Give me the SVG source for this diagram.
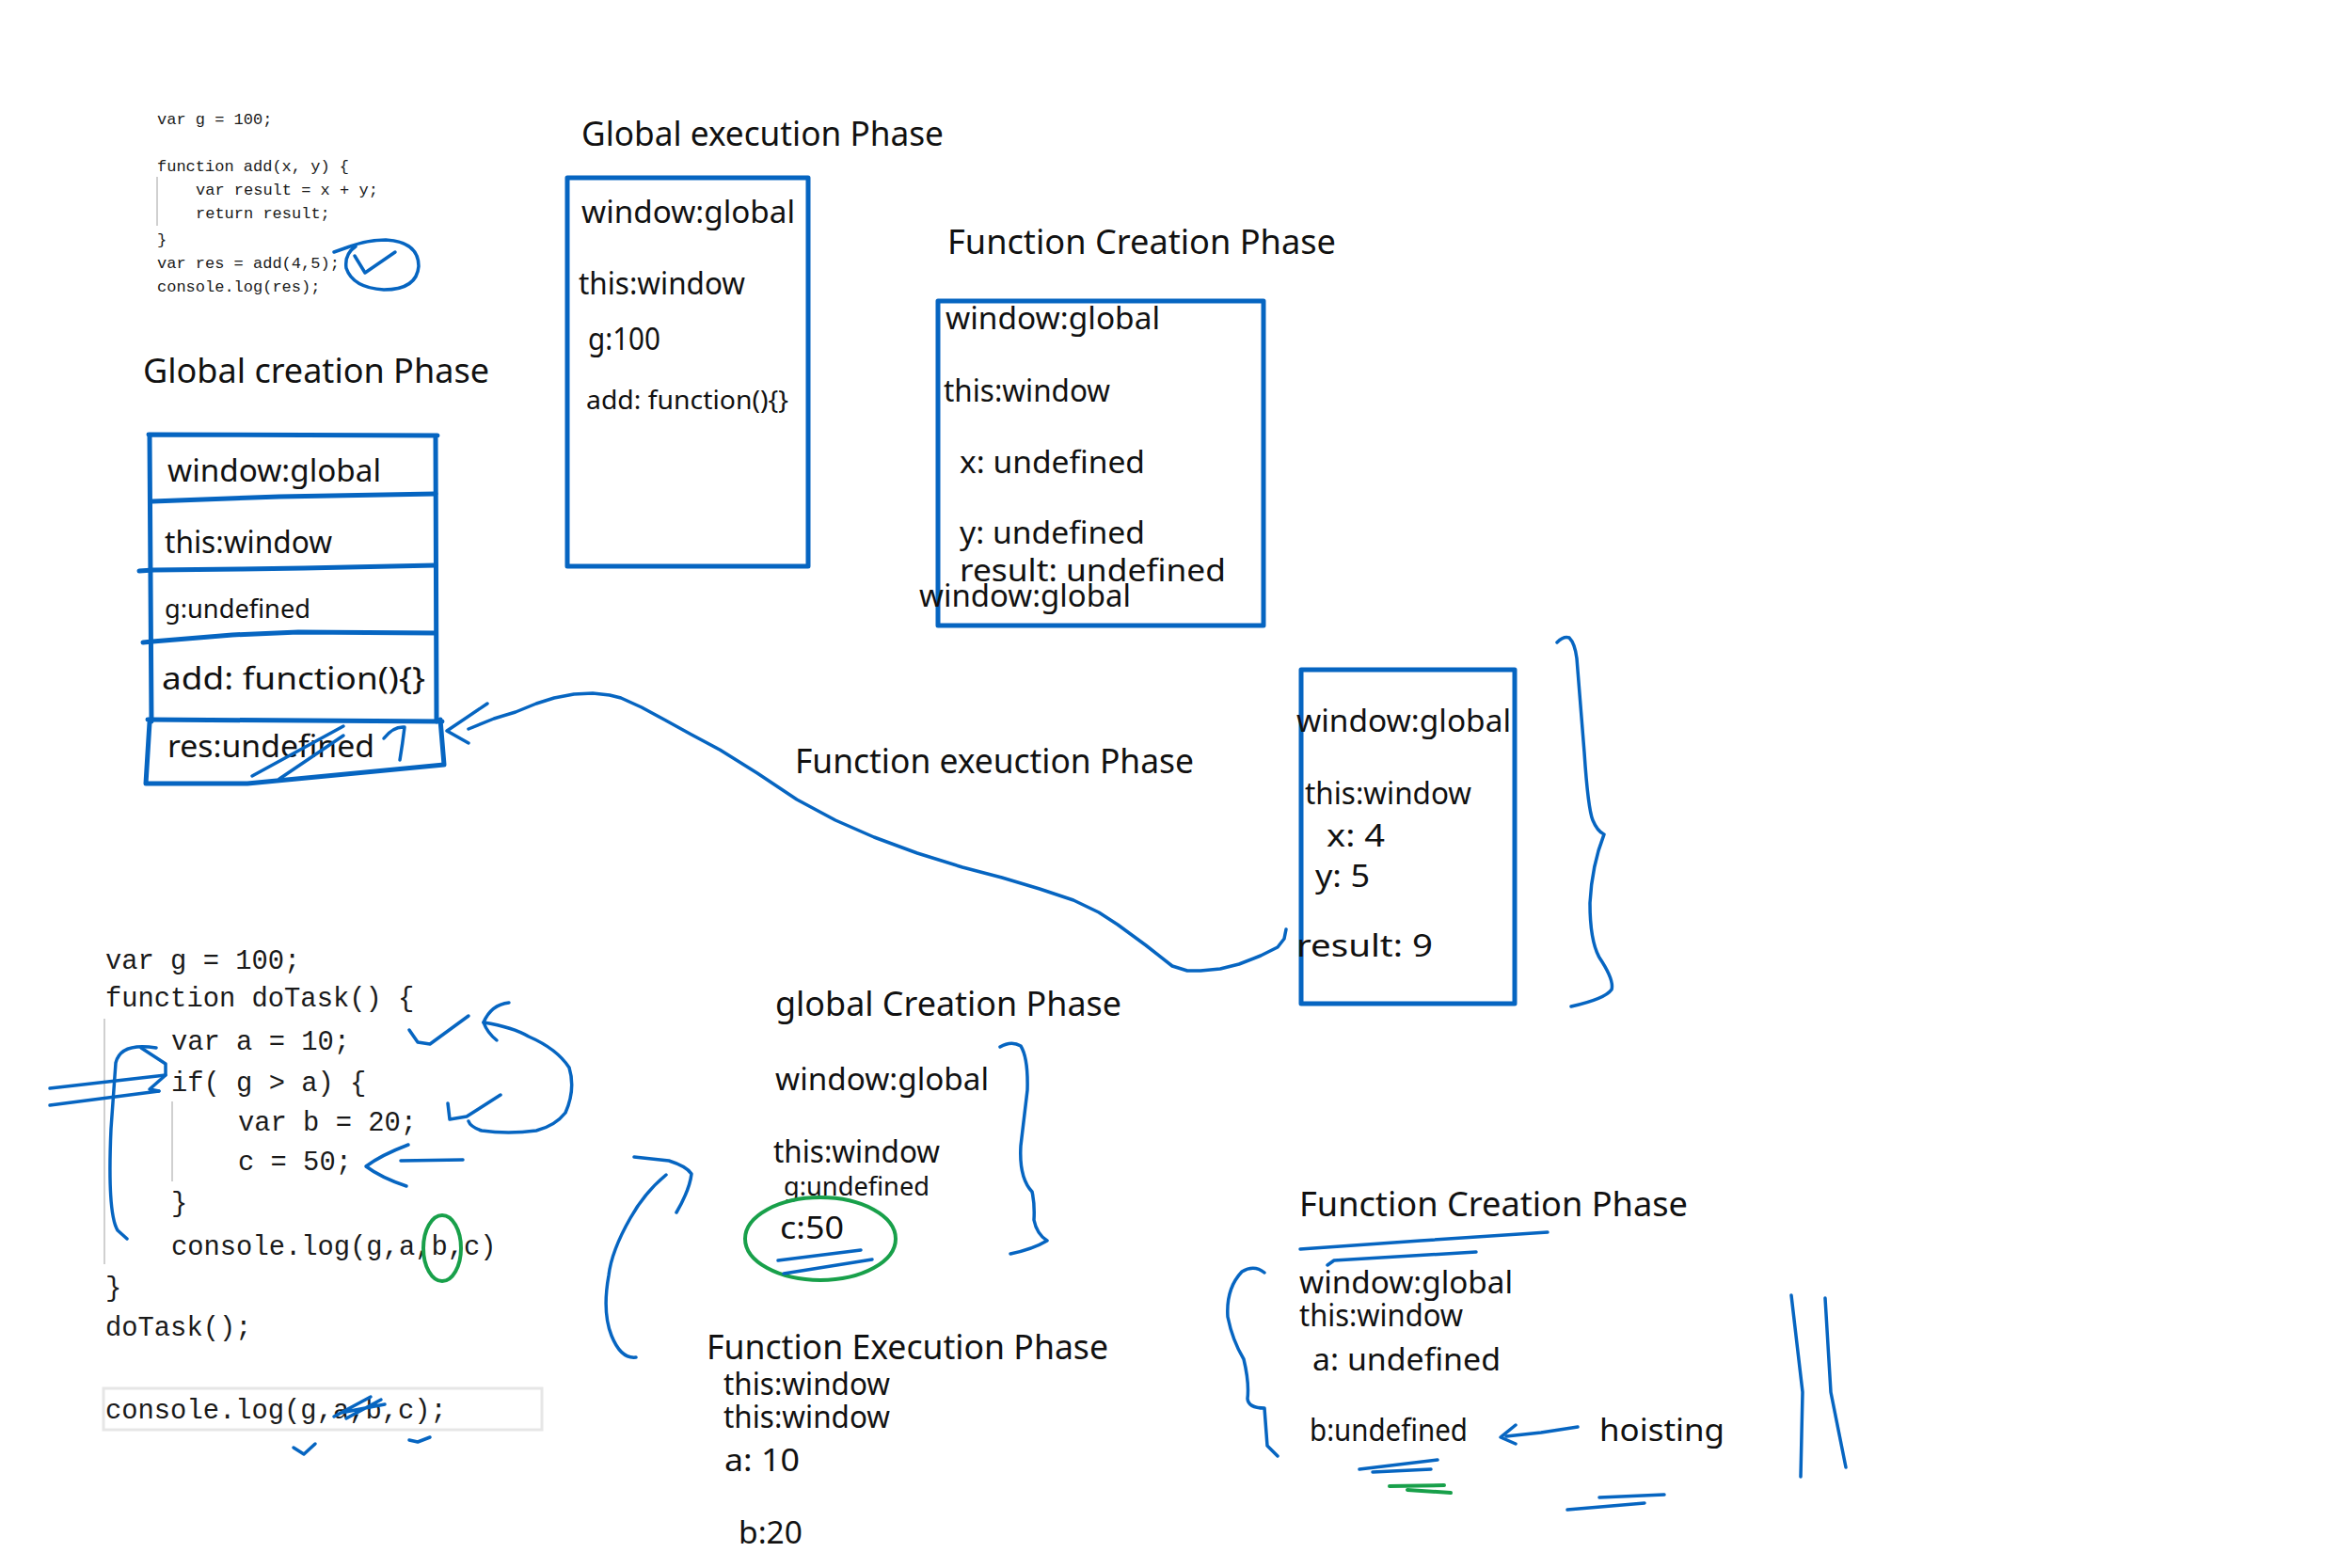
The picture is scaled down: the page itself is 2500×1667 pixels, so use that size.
<svg xmlns="http://www.w3.org/2000/svg" width="2500" height="1667" viewBox="0 0 2500 1667">
<style>
.bg{fill:#fff}
.hw{font-family:"Noto Sans","Open Sans",sans-serif;font-size:32px;fill:#111}
.t{font-size:36px}
.sm{font-size:28px}
.code1{font-family:"Liberation Mono","DejaVu Sans Mono",monospace;font-size:17px;fill:#1a1a1a}
.code2{font-family:"Liberation Mono","DejaVu Sans Mono",monospace;font-size:28.8px;fill:#1a1a1a}
.box{fill:none;stroke:#0665c1;stroke-width:5;stroke-linecap:round;stroke-linejoin:round}
.ink{fill:none;stroke:#0665c1;stroke-width:3.5;stroke-linecap:round;stroke-linejoin:round}
.grn{fill:none;stroke:#18a04a;stroke-width:4;stroke-linecap:round;stroke-linejoin:round}
.guide{stroke:#d0d0d0;stroke-width:2}
</style>
<rect class="bg" x="0" y="0" width="2500" height="1667"/>

<g id="code-add">
  <line class="guide" x1="167" y1="188" x2="167" y2="240"/>
  <text class="code1" x="167" y="132">var g = 100;</text>
  <text class="code1" x="167" y="182">function add(x, y) {</text>
  <text class="code1" x="208" y="207">var result = x + y;</text>
  <text class="code1" x="208" y="232">return result;</text>
  <text class="code1" x="167" y="260">}</text>
  <text class="code1" x="167" y="285">var res = add(4,5);</text>
  <text class="code1" x="167" y="310">console.log(res);</text>
  <path class="ink" d="M355,268 L372,262 Q390,255 410,255 Q445,257 445,283 Q443,308 408,308 Q375,306 368,285 Q366,270 378,262"/>
  <path class="ink" d="M377,272 L388,290 L420,268"/>
</g>

<g id="global-creation">
  <text class="hw t" x="152" y="407" textLength="368" lengthAdjust="spacingAndGlyphs">Global creation Phase</text>
  <path class="box" d="M158,462 L465,463 M159,463 L161,767 M463,463 L464,767"/>
  <path class="box" d="M162,533 L297,528 L463,525"/>
  <path class="box" d="M148,607 L163,606 L257,605 L323,604 L463,601"/>
  <path class="box" d="M152,683 L162,682 L247,675 L317,672 L463,673"/>
  <path class="box" d="M157,765 L470,767"/>
  <path class="box" d="M159,768 L155,833 L263,833 L472,813 L468,765"/>
  <text class="hw" x="178" y="512" textLength="227" lengthAdjust="spacingAndGlyphs">window:global</text>
  <text class="hw" x="175" y="588" textLength="178" lengthAdjust="spacingAndGlyphs">this:window</text>
  <text class="hw sm" x="175" y="657" textLength="155" lengthAdjust="spacingAndGlyphs">g:undefined</text>
  <text class="hw" x="172" y="733" textLength="280" lengthAdjust="spacingAndGlyphs">add: function(){}</text>
  <text class="hw" x="178" y="805" textLength="220" lengthAdjust="spacingAndGlyphs">res:undefined</text>
  <path class="ink" d="M268,825 L365,772 M297,828 L365,782"/>
  <path class="ink" d="M408,785 Q418,772 430,773 Q428,790 425,808"/>
</g>

<g id="global-execution">
  <text class="hw t" x="618" y="155" textLength="385" lengthAdjust="spacingAndGlyphs">Global execution Phase</text>
  <rect class="box" x="603" y="189" width="256" height="413"/>
  <text class="hw" x="618" y="237" textLength="227" lengthAdjust="spacingAndGlyphs">window:global</text>
  <text class="hw" x="615" y="313" textLength="177" lengthAdjust="spacingAndGlyphs">this:window</text>
  <text class="hw" x="625" y="372" textLength="77" lengthAdjust="spacingAndGlyphs">g:100</text>
  <text class="hw sm" x="623" y="435" textLength="215" lengthAdjust="spacingAndGlyphs">add: function(){}</text>
</g>

<g id="function-creation">
  <text class="hw t" x="1007" y="270" textLength="413" lengthAdjust="spacingAndGlyphs">Function Creation Phase</text>
  <rect class="box" x="997" y="320" width="346" height="345"/>
  <text class="hw" x="1005" y="350" textLength="228" lengthAdjust="spacingAndGlyphs">window:global</text>
  <text class="hw" x="1003" y="427" textLength="177" lengthAdjust="spacingAndGlyphs">this:window</text>
  <text class="hw" x="1020" y="503" textLength="197" lengthAdjust="spacingAndGlyphs">x: undefined</text>
  <text class="hw" x="1020" y="578" textLength="197" lengthAdjust="spacingAndGlyphs">y: undefined</text>
  <text class="hw" x="1020" y="618" textLength="283" lengthAdjust="spacingAndGlyphs">result: undefined</text>
  <text class="hw" x="977" y="645" textLength="225" lengthAdjust="spacingAndGlyphs">window:global</text>
</g>

<g id="function-execution">
  <rect class="box" x="1383" y="712" width="227" height="355"/>
  <text class="hw" x="1378" y="778" textLength="228" lengthAdjust="spacingAndGlyphs">window:global</text>
  <text class="hw" x="1387" y="855" textLength="177" lengthAdjust="spacingAndGlyphs">this:window</text>
  <text class="hw" x="1410" y="900" textLength="62" lengthAdjust="spacingAndGlyphs">x: 4</text>
  <text class="hw" x="1398" y="943" textLength="58" lengthAdjust="spacingAndGlyphs">y: 5</text>
  <text class="hw" x="1378" y="1017" textLength="145" lengthAdjust="spacingAndGlyphs">result: 9</text>
  <path class="ink" d="M1655,683 Q1662,676 1668,678 Q1674,684 1676,700 L1684,800 Q1688,860 1693,872 Q1698,884 1705,887 Q1692,920 1690,960 Q1690,1000 1700,1018 Q1716,1042 1713,1052 Q1706,1062 1670,1070"/>
</g>

<g id="exec-label">
  <text class="hw t" x="845" y="822" textLength="424" lengthAdjust="spacingAndGlyphs">Function exeuction Phase</text>
</g>

<g id="code-dotask">
  <line class="guide" x1="111" y1="1083" x2="111" y2="1344"/>
  <line class="guide" x1="183" y1="1171" x2="183" y2="1256"/>
  <text class="code2" x="112" y="1030">var g = 100;</text>
  <text class="code2" x="112" y="1070">function doTask() {</text>
  <text class="code2" x="182" y="1116">var a = 10;</text>
  <text class="code2" x="182" y="1160">if( g &gt; a) {</text>
  <text class="code2" x="253" y="1202">var b = 20;</text>
  <text class="code2" x="253" y="1244">c = 50;</text>
  <text class="code2" x="182" y="1288">}</text>
  <text class="code2" x="182" y="1334">console.log(g,a,b,c)</text>
  <text class="code2" x="112" y="1378">}</text>
  <text class="code2" x="112" y="1420">doTask();</text>
  <rect x="110" y="1476" width="466" height="44" fill="none" stroke="#e6e6e6" stroke-width="3"/>
  <text class="code2" x="112" y="1508">console.log(g,a,b,c);</text>
  <path class="ink" d="M355,1506 L394,1485 M362,1502 L409,1493 M368,1508 L405,1488"/>
  <path class="ink" d="M312,1539 L323,1546 L335,1535"/>
  <path class="ink" d="M435,1531 L444,1533 L457,1528"/>
  <ellipse class="grn" cx="470" cy="1327" rx="20" ry="35"/>
  <path class="ink" d="M435,1095 L444,1108 L457,1110 L498,1080"/>
  <path class="ink" d="M541,1066 Q522,1068 514,1087 Q518,1098 528,1106"/>
  <path class="ink" d="M514,1087 Q545,1092 562,1102 Q592,1115 605,1135 Q612,1158 601,1183 Q590,1197 570,1202 Q540,1206 512,1202 Q500,1198 498,1192"/>
  <path class="ink" d="M476,1173 L478,1190 L496,1187 L532,1164"/>
  <path class="ink" d="M434,1217 Q405,1228 389,1240 Q405,1252 432,1261"/>
  <path class="ink" d="M426,1234 L492,1233" stroke-width="6"/>
  <path class="ink" d="M53,1157 L176,1143 M53,1175 L169,1160"/>
  <path class="ink" d="M166,1114 Q128,1108 123,1130 L118,1200 Q114,1290 125,1308 L135,1317"/>
  <path class="ink" d="M150,1114 L176,1131 L176,1143 L159,1158 L169,1160"/>
</g>

<g id="global-creation-2">
  <text class="hw t" x="824" y="1080" textLength="368" lengthAdjust="spacingAndGlyphs">global Creation Phase</text>
  <text class="hw" x="824" y="1159" textLength="227" lengthAdjust="spacingAndGlyphs">window:global</text>
  <text class="hw" x="822" y="1236" textLength="177" lengthAdjust="spacingAndGlyphs">this:window</text>
  <text class="hw sm" x="833" y="1271" textLength="155" lengthAdjust="spacingAndGlyphs">g:undefined</text>
  <text class="hw" x="829" y="1317" textLength="68" lengthAdjust="spacingAndGlyphs">c:50</text>
  <ellipse class="grn" cx="872" cy="1317" rx="80" ry="44" stroke-width="5"/>
  <path class="ink" d="M827,1340 L915,1329 M833,1354 L927,1339"/>
  <path class="ink" d="M1063,1113 Q1075,1106 1085,1112 Q1093,1125 1092,1159 L1085,1218 Q1083,1252 1097,1267 Q1100,1280 1099,1297 Q1102,1312 1113,1319 Q1098,1328 1074,1333"/>
</g>

<g id="function-execution-2">
  <text class="hw t" x="751" y="1445" textLength="427" lengthAdjust="spacingAndGlyphs">Function Execution Phase</text>
  <text class="hw" x="769" y="1483" textLength="177" lengthAdjust="spacingAndGlyphs">this:window</text>
  <text class="hw" x="769" y="1518" textLength="177" lengthAdjust="spacingAndGlyphs">this:window</text>
  <text class="hw" x="770" y="1564" textLength="80" lengthAdjust="spacingAndGlyphs">a: 10</text>
  <text class="hw" x="785" y="1641" textLength="68" lengthAdjust="spacingAndGlyphs">b:20</text>
</g>

<g id="function-creation-2">
  <text class="hw t" x="1381" y="1293" textLength="413" lengthAdjust="spacingAndGlyphs">Function Creation Phase</text>
  <path class="ink" d="M1382,1328 L1510,1319 L1645,1310 M1411,1345 L1418,1340 L1569,1331"/>
  <text class="hw" x="1381" y="1375" textLength="227" lengthAdjust="spacingAndGlyphs">window:global</text>
  <text class="hw" x="1381" y="1410" textLength="174" lengthAdjust="spacingAndGlyphs">this:window</text>
  <text class="hw" x="1395" y="1457" textLength="200" lengthAdjust="spacingAndGlyphs">a: undefined</text>
  <text class="hw" x="1392" y="1532" textLength="168" lengthAdjust="spacingAndGlyphs">b:undefined</text>
  <text class="hw" x="1700" y="1532" textLength="133" lengthAdjust="spacingAndGlyphs">hoisting</text>
  <path class="ink" d="M1344,1353 Q1333,1344 1320,1352 Q1303,1370 1305,1400 Q1310,1425 1322,1445 Q1328,1470 1326,1487 Q1327,1497 1344,1497 L1347,1537 L1358,1548"/>
  <path class="ink" d="M1445,1562 L1528,1552 M1459,1565 L1521,1562"/>
  <path class="grn" d="M1477,1580 L1535,1579 M1496,1584 L1542,1587"/>
  <path class="ink" d="M1700,1592 L1769,1589 M1666,1605 L1748,1598"/>
  <path class="ink" d="M1904,1377 L1916,1480 L1914,1570 M1940,1380 L1946,1480 L1962,1560"/>
</g>

<g id="connectors">
  <path class="ink" d="M1677,1517 L1638,1523 L1601,1527"/>
  <path class="ink" d="M1611,1515 L1595,1528 L1611,1535"/>
  <path class="ink" d="M518,748 L475,777 L498,790"/>
  <path class="ink" d="M498,775 L525,764 L548,757 L570,748 L589,742 L610,738 L630,737 L648,739 L660,742 L682,752 L706,765 L735,781 L765,797 L805,822 L847,850 L888,872 L929,890 L975,907 L1023,922 L1065,933 L1105,945 L1141,957 L1168,970 L1188,983 L1218,1005 L1246,1027 L1262,1032 L1276,1032 L1297,1030 L1317,1025 L1340,1016 L1358,1007 L1365,998 L1367,988"/>
  <path class="ink" d="M674,1230 L711,1234 Q730,1240 735,1248 Q733,1265 719,1289"/>
  <path class="ink" d="M708,1249 Q685,1268 670,1295 Q650,1330 647,1356 Q640,1395 650,1420 Q660,1445 676,1443"/>
</g>
</svg>
